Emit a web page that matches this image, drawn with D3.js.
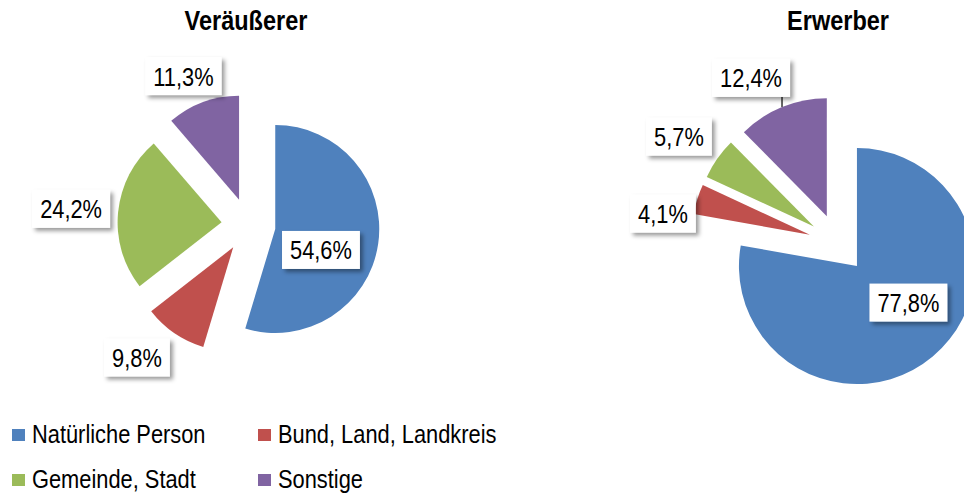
<!DOCTYPE html>
<html>
<head>
<meta charset="utf-8">
<script src="https://cdn.jsdelivr.net/npm/d3@7"></script>
<style>
  body { margin: 0; background: #fff; }
  text { font-family: "Liberation Sans", Arial, sans-serif; }
</style>
</head>
<body>
<script>
  const categories = ["Natürliche Person", "Bund, Land, Landkreis", "Gemeinde, Stadt", "Sonstige"];
  const sellerValues = [54.6, 9.8, 24.2, 11.3];
  const buyerValues = [77.8, 4.1, 5.7, 12.4];
  const pieTitles = ["Veräußerer", "Erwerber"];
  const sliceColors = ["#4F81BD", "#C0504D", "#9BBB59", "#8064A2"];

  (function() {

    let svg = "";
    const narrow = 0.84; // squeeze Liberation Sans to look like Arial Narrow

    // layout of each pie: centre, radius, explosion, label [angle deg, radius factor]
    const pieLayouts = [
      { cx: 248.5, cy: 225, r: 104, explode: 0.26, titleX: 246,
        labels: [[109, 0.737], [220.1, 1.665], [275.2, 1.713], [336.4, 1.563]], leader: -1 },
      { cx: 838, cy: 243.5, r: 118, explode: 0.25, titleX: 838,
        labels: [[130, 0.779], [279.7, 1.505], [303.9, 1.624], [332.3, 1.585]], leader: 3 }
    ];

    window.onload = function() {
      svg = d3.select("body").append("svg")
        .attr("width", 964)
        .attr("height", 495);

      let defs = svg.append("defs");
      let shadow = defs.append("filter")
        .attr("id", "shadow")
        .attr("x", "-20%").attr("y", "-20%")
        .attr("width", "150%").attr("height", "160%");
      shadow.append("feDropShadow")
        .attr("dx", 3).attr("dy", 3)
        .attr("stdDeviation", 2.2)
        .attr("flood-color", "#000")
        .attr("flood-opacity", 0.4);

      drawPie(sellerValues, pieTitles[0], pieLayouts[0]);
      drawPie(buyerValues, pieTitles[1], pieLayouts[1]);
      drawLegend();
    }

    function fmt(v) {
      return v.toFixed(1).replace(".", ",") + "%";
    }

    // text squeezed horizontally, anchored at x,y
    function narrowText(parent, x, y, size, str) {
      return parent.append("text")
        .attr("transform", "translate(" + x + "," + y + ") scale(" + narrow + ",1)")
        .style("font-size", size + "px")
        .text(str);
    }

    function drawPie(values, title, layout) {
      let g = svg.append("g");

      narrowText(g, layout.titleX, 30, 28, title)
        .attr("text-anchor", "middle")
        .style("font-weight", "bold");

      let pie = d3.pie().sort(null).value((d) => d);
      let arcs = pie(values);
      let arc = d3.arc().innerRadius(0).outerRadius(layout.r);
      let off = layout.explode * layout.r;

      let slices = g.append("g")
        .attr("transform", "translate(" + layout.cx + "," + layout.cy + ")");

      slices.selectAll("path")
        .data(arcs)
        .enter()
        .append("path")
          .attr("d", arc)
          .attr("fill", (d, i) => sliceColors[i])
          .attr("transform", (d) => {
            let mid = (d.startAngle + d.endAngle) / 2;
            return "translate(" + (Math.sin(mid) * off) + "," + (-Math.cos(mid) * off) + ")";
          });

      // data labels
      arcs.forEach((d, i) => {
        let a = layout.labels[i][0] * Math.PI / 180;
        let dist = layout.labels[i][1] * layout.r;
        let lx = layout.cx + Math.sin(a) * dist;
        let ly = layout.cy - Math.cos(a) * dist;

        let lg = g.append("g");
        let rect = lg.append("rect").attr("fill", "#fff").attr("filter", "url(#shadow)");
        let t = narrowText(lg, lx, ly + 9.5, 26, fmt(values[i]))
          .attr("text-anchor", "middle")
          .attr("fill", "#000");
        let w = t.node().getComputedTextLength() * narrow + 16;
        let h = 38;
        rect.attr("x", lx - w / 2).attr("y", ly - h / 2)
          .attr("width", w).attr("height", h);

        if (i == layout.leader) {
          // leader line from box bottom to slice edge
          let mid = (d.startAngle + d.endAngle) / 2;
          let vx = layout.cx + Math.sin(mid) * off;
          let vy = layout.cy - Math.cos(mid) * off;
          let x = lx + w / 2 - 8;
          let y2 = vy - Math.sqrt(layout.r * layout.r - (x - vx) * (x - vx));
          g.insert("line", "g")
            .attr("x1", x).attr("x2", x)
            .attr("y1", ly + h / 2).attr("y2", y2)
            .attr("stroke", "#000")
            .attr("stroke-width", 1.2);
        }
      });
    }

    function drawLegend() {
      let cols = [12, 258];
      let rows = [443, 488];
      let legend = svg.append("g");
      categories.forEach((c, i) => {
        let x = cols[i % 2];
        let y = rows[Math.floor(i / 2)];
        legend.append("rect")
          .attr("x", x).attr("y", y - 14)
          .attr("width", 13).attr("height", 12)
          .attr("fill", sliceColors[i]);
        narrowText(legend, x + 20, y, 26, c);
      });
    }
  })();
</script>
</body>
</html>
